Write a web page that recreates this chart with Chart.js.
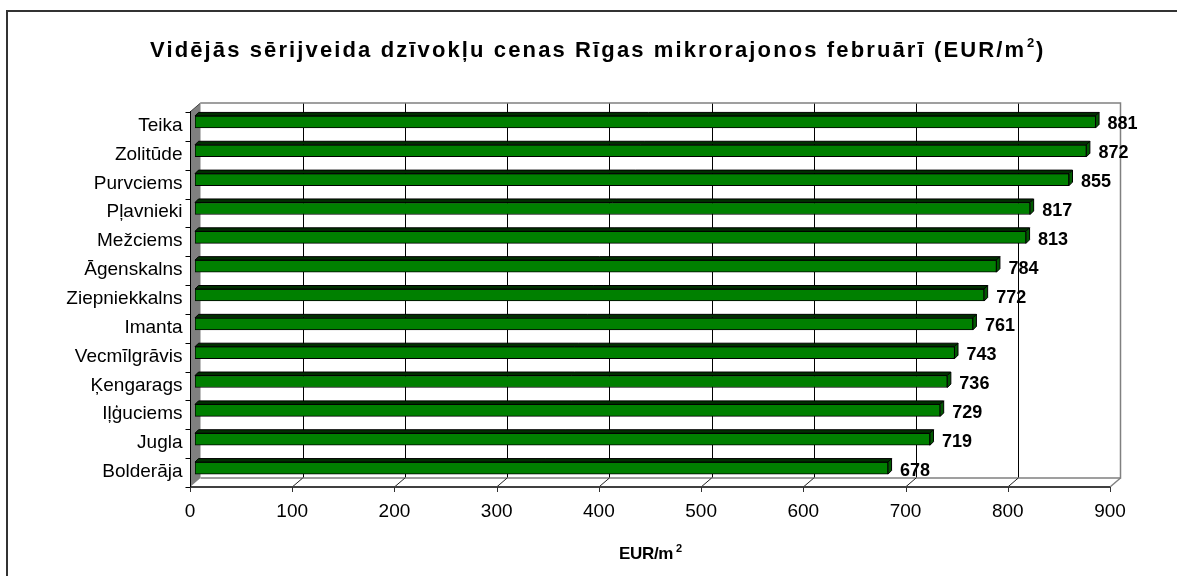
<!DOCTYPE html>
<html>
<head>
<meta charset="utf-8">
<script src="https://cdn.jsdelivr.net/npm/chart.js@4.4.1/dist/chart.umd.min.js"></script>
<style>
  html, body { margin: 0; padding: 0; background: #ffffff; }
  canvas { display: block; }
</style>
</head>
<body>
<canvas id="c" width="1177" height="576"></canvas>
<script>
// ---- data ----
const categories = ["Teika", "Zolitūde", "Purvciems", "Pļavnieki", "Mežciems", "Āgenskalns",
  "Ziepniekkalns", "Imanta", "Vecmīlgrāvis", "Ķengarags", "Iļģuciems", "Jugla", "Bolderāja"];
const values = [881, 872, 855, 817, 813, 784, 772, 761, 743, 736, 729, 719, 678];
const tickValues = [0, 100, 200, 300, 400, 500, 600, 700, 800, 900];
const titleMain = "Vidējās sērijveida dzīvokļu cenas Rīgas mikrorajonos februārī (EUR/m";
const titleSup = "2";
const titleEnd = ")";
const axisTitleMain = "EUR/m";
const axisTitleSup = "2";

const FONT = '"Liberation Sans", Arial, Helvetica, sans-serif';
const FRONT = { x: -5, y: 4.5 };
const BACK = { x: 5.5, y: -4.5 };
const DEPTH = 3.5;

const depthPlugin = {
  id: 'depth',
  beforeDatasetsDraw(chart) {
    const { ctx, chartArea: a, scales } = chart;
    const xs = scales.x;
    const px = v => xs.getPixelForValue(v);
    const top = a.top, bot = a.bottom;
    const bTop = top + BACK.y, bBot = bot + BACK.y;
    const fTop = top + FRONT.y, fBot = bot + FRONT.y;
    const x0 = px(tickValues[0]), xN = px(tickValues[tickValues.length - 1]);
    ctx.save();
    // left wall
    ctx.fillStyle = '#808080';
    ctx.beginPath();
    ctx.moveTo(x0 + FRONT.x, fTop);
    ctx.lineTo(x0 + BACK.x, bTop);
    ctx.lineTo(x0 + BACK.x, bBot);
    ctx.lineTo(x0 + FRONT.x, fBot);
    ctx.closePath();
    ctx.fill();
    ctx.strokeStyle = '#404040';
    ctx.lineWidth = 1;
    ctx.beginPath();
    ctx.moveTo(x0 + FRONT.x, fTop);
    ctx.lineTo(x0 + BACK.x, bTop);
    ctx.stroke();
    // back wall gridlines
    ctx.strokeStyle = '#000000';
    ctx.lineWidth = 1;
    tickValues.slice(1, -1).forEach(v => {
      const bx = Math.round(px(v) + BACK.x) + 0.5;
      ctx.beginPath();
      ctx.moveTo(bx, bTop);
      ctx.lineTo(bx, bBot);
      ctx.stroke();
    });
    // back wall border
    ctx.strokeStyle = '#808080';
    ctx.lineWidth = 1.5;
    ctx.beginPath();
    ctx.moveTo(x0 + BACK.x, bTop);
    ctx.lineTo(xN + BACK.x, bTop);
    ctx.lineTo(xN + BACK.x, bBot);
    ctx.lineTo(x0 + BACK.x, bBot);
    ctx.stroke();
    // floor right edge
    ctx.beginPath();
    ctx.moveTo(xN + BACK.x, bBot);
    ctx.lineTo(xN + FRONT.x, fBot);
    ctx.stroke();
    // floor diagonals
    ctx.strokeStyle = '#202020';
    ctx.lineWidth = 1;
    tickValues.slice(1, -1).forEach(v => {
      ctx.beginPath();
      ctx.moveTo(px(v) + FRONT.x, fBot);
      ctx.lineTo(px(v) + BACK.x, bBot);
      ctx.stroke();
    });
    ctx.restore();
  },
  afterDatasetsDraw(chart) {
    const { ctx, chartArea: a, scales } = chart;
    const xs = scales.x, ys = scales.y;
    const px = v => xs.getPixelForValue(v);
    const fTop = a.top + FRONT.y, fBot = a.bottom + FRONT.y;
    const x0 = px(tickValues[0]) + FRONT.x, xN = px(tickValues[tickValues.length - 1]) + FRONT.x;
    ctx.save();
    // 3D faces of the bars
    const meta = chart.getDatasetMeta(0);
    meta.data.forEach(bar => {
      const p = bar.getProps(['x', 'y', 'base', 'height'], true);
      const t = p.y - p.height / 2, b = p.y + p.height / 2;
      const d = DEPTH;
      ctx.lineWidth = 1;
      ctx.strokeStyle = '#000000';
      // top face
      ctx.fillStyle = '#003000';
      ctx.beginPath();
      ctx.moveTo(p.base, t);
      ctx.lineTo(p.base + d, t - d);
      ctx.lineTo(p.x + d, t - d);
      ctx.lineTo(p.x, t);
      ctx.closePath();
      ctx.fill();
      ctx.stroke();
      // side face
      ctx.fillStyle = '#005a00';
      ctx.beginPath();
      ctx.moveTo(p.x, t);
      ctx.lineTo(p.x + d, t - d);
      ctx.lineTo(p.x + d, b - d);
      ctx.lineTo(p.x, b);
      ctx.closePath();
      ctx.fill();
      ctx.stroke();
    });
    // front floor edge
    ctx.strokeStyle = '#404040';
    ctx.lineWidth = 2;
    ctx.beginPath();
    ctx.moveTo(x0, fBot);
    ctx.lineTo(xN, fBot);
    ctx.stroke();
    // left axis line and category ticks
    ctx.strokeStyle = '#000000';
    ctx.lineWidth = 1;
    const lx = Math.round(x0) + 0.5;
    ctx.beginPath();
    ctx.moveTo(lx, fTop - 1);
    ctx.lineTo(lx, fBot + 5);
    ctx.stroke();
    const band = ys.getPixelForValue(1) - ys.getPixelForValue(0);
    for (let k = 0; k <= categories.length; k++) {
      const yy = Math.round(ys.getPixelForValue(0) - band / 2 + k * band + FRONT.y) + 0.5;
      ctx.beginPath();
      ctx.moveTo(lx - 5, yy);
      ctx.lineTo(lx, yy);
      ctx.stroke();
    }
    // bottom ticks
    ctx.strokeStyle = '#303030';
    tickValues.forEach(v => {
      const tx = Math.round(px(v) + FRONT.x) + 0.5;
      ctx.beginPath();
      ctx.moveTo(tx, fBot);
      ctx.lineTo(tx, fBot + 5);
      ctx.stroke();
    });
    // tick labels
    ctx.fillStyle = '#000000';
    ctx.font = '19px ' + FONT;
    ctx.textAlign = 'center';
    ctx.textBaseline = 'alphabetic';
    tickValues.forEach(v => {
      ctx.fillText(String(v), px(v) + FRONT.x, fBot + 30);
    });
    // category labels
    ctx.textAlign = 'right';
    categories.forEach((c, i) => {
      ctx.fillText(c, lx - 8, ys.getPixelForValue(i) + 9);
    });
    // data labels
    ctx.font = 'bold 18px ' + FONT;
    ctx.textAlign = 'left';
    meta.data.forEach((bar, i) => {
      const p = bar.getProps(['x', 'y'], true);
      ctx.fillText(String(values[i]), p.x + 12, p.y + 7.5);
    });
    // axis title
    ctx.font = 'bold 17px ' + FONT;
    ctx.letterSpacing = '-0.3px';
    const aw = ctx.measureText(axisTitleMain).width;
    const acx = (x0 + xN) / 2;
    const ax = acx - (aw + 8) / 2;
    ctx.fillText(axisTitleMain, ax, 559);
    ctx.letterSpacing = '0px';
    ctx.font = 'bold 11px ' + FONT;
    ctx.fillText(axisTitleSup, ax + aw + 3, 552);
    // title
    ctx.font = 'bold 22px ' + FONT;
    const tLeft = 150, tRight = 1024;
    const w0 = ctx.measureText(titleMain).width;
    const n = [...titleMain].length;
    const sp = (tRight - tLeft - w0) / (n - 1);
    ctx.letterSpacing = sp.toFixed(2) + 'px';
    ctx.fillText(titleMain, tLeft, 57);
    ctx.letterSpacing = '0px';
    ctx.font = 'bold 13px ' + FONT;
    ctx.fillText(titleSup, tRight + 3, 47);
    ctx.font = 'bold 22px ' + FONT;
    ctx.fillText(titleEnd, tRight + 12, 57);
    // outer border (clipped at right and bottom)
    ctx.fillStyle = '#333333';
    ctx.fillRect(6, 10, chart.width - 6, 2);
    ctx.fillRect(6, 10, 2, chart.height - 10);
    ctx.restore();
  }
};

new Chart(document.getElementById('c'), {
  type: 'bar',
  data: {
    labels: categories,
    datasets: [{
      data: values,
      backgroundColor: '#008000',
      borderColor: '#000000',
      borderWidth: 1,
      barThickness: 12,
      borderSkipped: false
    }]
  },
  options: {
    indexAxis: 'y',
    responsive: false,
    devicePixelRatio: 1,
    animation: false,
    layout: { padding: { left: 195, right: 62, top: 107.5, bottom: 93.5 } },
    scales: {
      x: { min: 0, max: 900, display: false },
      y: { display: false }
    },
    plugins: { legend: { display: false }, tooltip: { enabled: false } }
  },
  plugins: [depthPlugin]
});
</script>
</body>
</html>
